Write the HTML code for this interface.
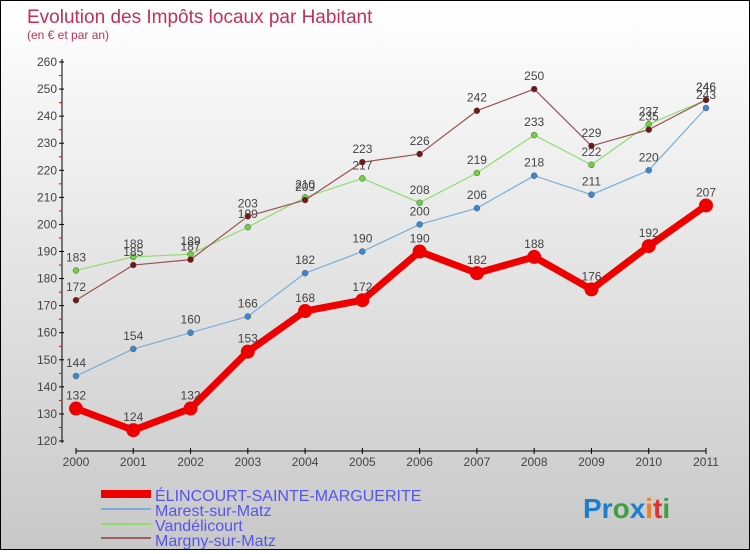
<!DOCTYPE html>
<html><head><meta charset="utf-8"><style>
html,body{margin:0;padding:0}
body{width:750px;height:550px;overflow:hidden;font-family:"Liberation Sans",sans-serif}
#wrap{position:relative;width:748px;height:548px;border:1px solid #000;background:linear-gradient(#fff,#c8c8c8)}
</style></head><body>
<div id="wrap">
<svg id="chart" width="748" height="548">
<text x="26" y="22" font-size="19" fill="#c0305a">Evolution des Impôts locaux par Habitant</text>
<text x="26" y="38" font-size="12" fill="#c0305a">(en € et par an)</text>
<g id="axes"></g><g id="series"></g>
<g font-size="16" fill="#5555ee">
<rect x="100" y="489" width="50" height="8" fill="#e00"/>
<text x="154" y="500">ÉLINCOURT-SAINTE-MARGUERITE</text>
<rect x="100" y="507" width="50" height="2" fill="#7aaed8"/>
<text x="154" y="515">Marest-sur-Matz</text>
<rect x="100" y="522" width="50" height="2" fill="#90dc70"/>
<text x="154" y="530">Vandélicourt</text>
<rect x="100" y="536" width="50" height="2" fill="#9a6060"/>
<text x="154" y="545">Margny-sur-Matz</text>
</g>
<text x="582" y="517" font-size="28" font-weight="bold"><tspan fill="#1a7fd0">Pr</tspan><tspan fill="#3aa040">o</tspan><tspan fill="#1a7fd0">x</tspan><tspan fill="#f08020">i</tspan><tspan fill="#e03030">t</tspan><tspan fill="#3aa040">i</tspan></text>
</svg></div>
<script>
const years=[2000,2001,2002,2003,2004,2005,2006,2007,2008,2009,2010,2011];
const elincourt=[132,124,132,153,168,172,190,182,188,176,192,207];
const marest=[144,154,160,166,182,190,200,206,218,211,220,243];
const vandelicourt=[183,188,189,199,210,217,208,219,233,222,237,246];
const margny=[172,185,187,203,209,223,226,242,250,229,235,246];
const yTicks=[120,130,140,150,160,170,180,190,200,210,220,230,240,250,260];
const NS="http://www.w3.org/2000/svg";
function xs(i){return 75+i*(705-75)/(years.length-1);}
function ys(v){return 440-(v-120)*(440-61)/140;}
function mk(t,a,p){const e=document.createElementNS(NS,t);for(const k in a)e.setAttribute(k,a[k]);p.appendChild(e);return e;}
const ax=document.getElementById('axes');
const yl=mk('line',{x1:61,y1:58,x2:61,y2:442,stroke:'#000'},ax);


const xl=mk('line',{x1:75,y1:450,x2:705,y2:450,stroke:'#000'},ax);


yTicks.forEach(v=>{const y=ys(v);mk('line',{x1:58,y1:y,x2:63,y2:y,stroke:'#000'},ax);
if(v<260)mk('line',{x1:58,y1:y-13.5,x2:61,y2:y-13.5,stroke:'#e00'},ax);
const t=mk('text',{x:56,y:y+4,'font-size':12,fill:'#444','text-anchor':'end'},ax);t.textContent=v;

});
years.forEach((yr,i)=>{const x=xs(i);mk('line',{x1:x,y1:447,x2:x,y2:453,stroke:'#000'},ax);
const t=mk('text',{x:x,y:465,'font-size':12,fill:'#444','text-anchor':'middle'},ax);t.textContent=yr;

});
const sg=document.getElementById('series');
function draw(data,name,color,w,r,dot){const g=mk('g',{},sg);


mk('polyline',{points:data.map((v,i)=>xs(i)+','+ys(v)).join(' '),fill:'none',stroke:color,'stroke-width':w,'stroke-linejoin':'round'},g);
data.forEach((v,i)=>{const c=mk('circle',{cx:xs(i),cy:ys(v),r:r,fill:dot,stroke:w>2?'none':'#555','stroke-width':0.5},g);


const t=mk('text',{x:xs(i),y:ys(v)-9,'font-size':12,fill:'#444','text-anchor':'middle'},g);t.textContent=v;

});}
draw(marest,'marest','#7aaed8',1.2,3,'#3a88d0');
draw(vandelicourt,'vandelicourt','#90dc70',1.2,3,'#70d040');
draw(margny,'margny','#9a5050',1.2,3,'#701818');
draw(elincourt,'elincourt','#ee0000',7,7,'#ee0000');
</script>
</body></html>
